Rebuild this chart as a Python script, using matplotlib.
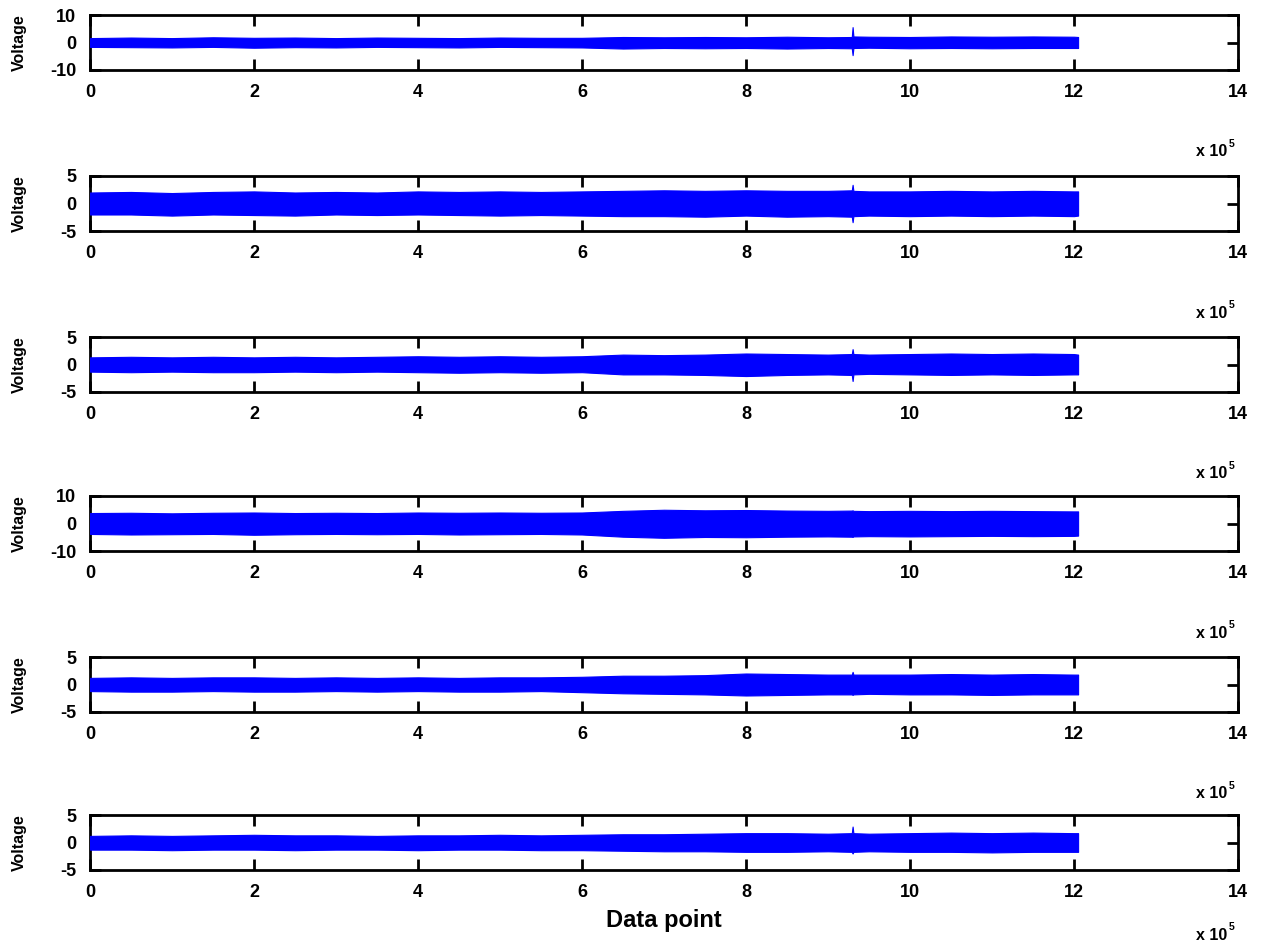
import matplotlib
matplotlib.use("Agg")
import matplotlib.pyplot as plt
import numpy as np

# Sample positions along the record (in units of 1e5 data points)
positions_e5 = [0.0, 0.5, 1.0, 1.5, 2.0, 2.5, 3.0, 3.5, 4.0, 4.5, 5.0, 5.5, 6.0,
                6.5, 7.0, 7.5, 8.0, 8.5, 9.0, 9.29, 9.30, 9.31, 9.5, 10.0, 10.5,
                11.0, 11.5, 12.0, 12.05]
SCALE = 1e5

# Upper / lower signal envelopes of the six voltage channels
ch1_upper = [1.6, 1.8, 1.6, 1.9, 1.7, 1.8, 1.6, 1.8, 1.7, 1.6, 1.8, 1.7, 1.7,
             2.0, 1.9, 2.0, 1.9, 2.1, 1.9, 2.0, 5.6, 2.2, 2.1, 2.0, 2.2, 2.1, 2.2, 2.1, 2.0]
ch1_lower = [-1.6, -1.7, -1.8, -1.6, -1.9, -1.7, -1.8, -1.6, -1.7, -1.8, -1.6, -1.7, -1.8,
             -2.2, -2.0, -2.1, -2.0, -2.2, -2.0, -2.1, -4.6, -2.0, -1.9, -2.1, -2.0, -2.1, -2.0, -2.0, -2.0]

ch2_upper = [2.0, 2.1, 1.9, 2.1, 2.2, 2.0, 2.1, 2.0, 2.2, 2.1, 2.2, 2.1, 2.2,
             2.3, 2.4, 2.3, 2.4, 2.3, 2.3, 2.4, 3.4, 2.3, 2.2, 2.2, 2.3, 2.2, 2.3, 2.2, 2.2]
ch2_lower = [-2.0, -2.0, -2.2, -2.0, -2.1, -2.2, -2.0, -2.1, -2.0, -2.1, -2.2, -2.1, -2.2,
             -2.3, -2.3, -2.4, -2.2, -2.4, -2.3, -2.4, -3.4, -2.3, -2.2, -2.3, -2.2, -2.3, -2.2, -2.3, -2.2]

ch3_upper = [1.3, 1.4, 1.3, 1.4, 1.3, 1.4, 1.3, 1.4, 1.5, 1.4, 1.5, 1.4, 1.5,
             1.8, 1.7, 1.8, 2.0, 1.9, 1.8, 1.9, 2.8, 1.9, 1.8, 1.9, 2.0, 1.9, 2.0, 1.9, 1.8]
ch3_lower = [-1.3, -1.4, -1.3, -1.4, -1.4, -1.3, -1.4, -1.3, -1.4, -1.5, -1.4, -1.5, -1.4,
             -1.8, -1.8, -1.9, -2.1, -1.9, -1.8, -1.9, -3.0, -1.8, -1.7, -1.8, -1.9, -1.8, -1.9, -1.8, -1.8]

ch4_upper = [3.8, 3.9, 3.7, 3.9, 4.0, 3.8, 3.9, 3.8, 4.0, 3.9, 4.0, 3.9, 4.0,
             4.6, 5.0, 4.8, 4.9, 4.7, 4.6, 4.7, 4.8, 4.6, 4.5, 4.6, 4.5, 4.6, 4.5, 4.4, 4.4]
ch4_lower = [-3.8, -4.0, -3.9, -3.8, -4.1, -3.9, -3.8, -3.9, -3.8, -4.0, -3.9, -3.8, -4.0,
             -4.8, -5.2, -4.9, -5.0, -4.8, -4.7, -4.8, -4.9, -4.7, -4.6, -4.7, -4.6, -4.5, -4.6, -4.5, -4.4]

ch5_upper = [1.2, 1.3, 1.2, 1.3, 1.3, 1.2, 1.3, 1.2, 1.3, 1.2, 1.3, 1.3, 1.4,
             1.6, 1.6, 1.7, 2.0, 1.9, 1.8, 1.8, 2.3, 1.8, 1.8, 1.8, 1.9, 1.8, 1.9, 1.8, 1.8]
ch5_lower = [-1.2, -1.3, -1.3, -1.2, -1.3, -1.3, -1.2, -1.3, -1.2, -1.3, -1.3, -1.2, -1.4,
             -1.6, -1.7, -1.8, -2.0, -1.9, -1.8, -1.8, -1.9, -1.8, -1.7, -1.8, -1.8, -1.9, -1.8, -1.8, -1.8]

ch6_upper = [1.2, 1.3, 1.2, 1.3, 1.4, 1.3, 1.3, 1.2, 1.3, 1.3, 1.4, 1.3, 1.4,
             1.5, 1.5, 1.6, 1.7, 1.7, 1.6, 1.7, 2.9, 1.7, 1.6, 1.7, 1.8, 1.7, 1.8, 1.7, 1.7]
ch6_lower = [-1.3, -1.3, -1.4, -1.3, -1.3, -1.4, -1.3, -1.3, -1.4, -1.3, -1.3, -1.4, -1.4,
             -1.5, -1.6, -1.6, -1.7, -1.7, -1.6, -1.7, -2.0, -1.7, -1.6, -1.7, -1.7, -1.8, -1.7, -1.7, -1.7]

channels = [(ch1_upper, ch1_lower), (ch2_upper, ch2_lower), (ch3_upper, ch3_lower),
            (ch4_upper, ch4_lower), (ch5_upper, ch5_lower), (ch6_upper, ch6_lower)]
y_limits = [10, 5, 5, 10, 5, 5]
x_tick_values = [0, 2, 4, 6, 8, 10, 12, 14]

# ---- figure layout (pixel geometry on a 1262 x 948 canvas) ----
W, H = 1262, 948
fig = plt.figure(figsize=(W / 100, H / 100), dpi=100)
fig.patch.set_facecolor("white")

FONT = ["Liberation Sans", "DejaVu Sans"]
left_px, right_px, height_px = 90, 1238, 55
tops_px = [15, 176, 337, 496, 657, 815]

x = np.array(positions_e5) * SCALE

for i, ((up, lo), ylim, top) in enumerate(zip(channels, y_limits, tops_px)):
    rect = [left_px / W, 1 - (top + height_px) / H,
            (right_px - left_px) / W, height_px / H]
    ax = fig.add_axes(rect)
    ax.fill_between(x, lo, up, color="#0000ff", linewidth=0.8,
                    edgecolor="#0000ff", zorder=3)
    ax.set_xlim(0, 14 * SCALE)
    ax.set_ylim(-ylim, ylim)
    ax.set_xticks([v * SCALE for v in x_tick_values])
    ax.set_xticklabels([str(v) for v in x_tick_values])
    ax.set_yticks([-ylim, 0, ylim])
    ax.set_yticklabels([str(-ylim), "0", str(ylim)])
    ax.tick_params(direction="in", length=8, width=2, top=True, right=True,
                   labelsize=13, colors="black")
    ax.tick_params(axis="x", pad=10)
    ax.tick_params(axis="y", pad=10)
    for lab in ax.get_xticklabels() + ax.get_yticklabels():
        lab.set_fontfamily(FONT)
        lab.set_fontweight("bold")
    for sp in ax.spines.values():
        sp.set_linewidth(2)
        sp.set_color("black")
    ax.set_ylabel("Voltage", fontsize=11.5, fontweight="bold", family=FONT)
    ax.yaxis.set_label_coords(-0.055, 0.5)

    # power-of-ten multiplier under the right end of each x axis
    drop = 82 if i < 5 else 65
    ypix = H - (top + height_px + drop)
    fig.text(1196 / W, ypix / H, "x 10", fontsize=11.5, fontweight="bold",
             family=FONT, ha="left", va="center")
    fig.text(1229 / W, (ypix + 8) / H, "5", fontsize=7.5, fontweight="bold",
             family=FONT, ha="left", va="center")

    if i == 5:
        ax.set_xlabel("Data point", fontsize=17, fontweight="bold",
                      family=FONT, labelpad=6)

fig.savefig("out.png", dpi=100, facecolor="white")
